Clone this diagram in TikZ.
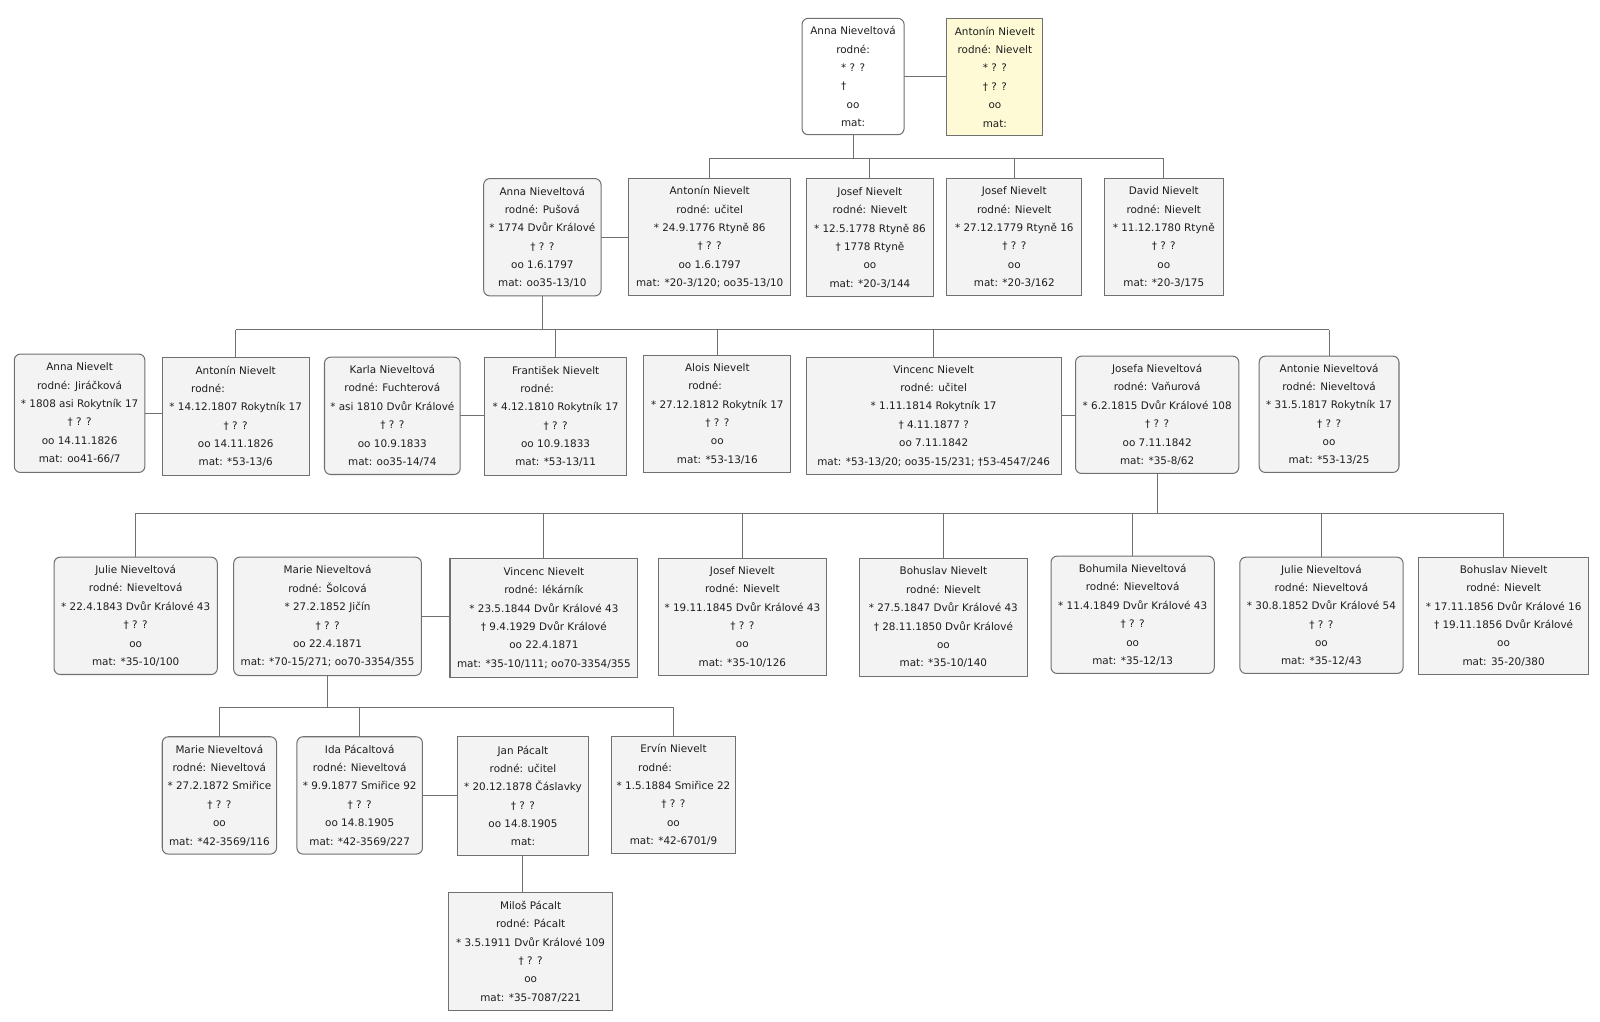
\documentclass[tikz,border=0pt]{standalone}
\usepackage{fontspec}
\setmainfont{DejaVu Sans}
\definecolor{boxfill}{RGB}{243,243,243}
\definecolor{boxline}{RGB}{112,112,112}
\definecolor{yel}{RGB}{255,250,214}
\definecolor{txt}{RGB}{30,30,30}
\tikzset{
  person/.style={draw=boxline, line width=1pt, fill=boxfill, align=center,
    inner sep=0pt, outer sep=0pt, text=txt, font=\fontsize{10.2}{18}\selectfont},
  sq/.style={person},
  rd/.style={person, rounded corners=6pt},
  link/.style={draw=boxline, line width=1pt},
}
\newcommand\pers[7]{%
  \pgfmathsetmacro\pw{#5-#3}\pgfmathsetmacro\ph{#6-#4}%
  \node[#1, minimum width=\pw pt, minimum height=\ph pt] (#2) at ({(#3+#5)/2},{(#4+#6)/2}) {#7};}
\begin{document}
\begin{tikzpicture}[x=1pt,y=-1pt]
\fill[white] (0,0) rectangle (1568,1001);
\useasboundingbox (0,0) rectangle (1568,1001);
% row 0
\pers{rd,fill=white}{A0}{786}{18}{886}{132}{Anna Nieveltová\\rodné:\\* ? ?\\†\hphantom{ ? ?}\\oo\\mat:}
\pers{sq,fill=yel}{B0}{928}{18}{1022}{133}{Antonín Nievelt\\rodné: Nievelt\\* ? ?\\† ? ?\\oo\\mat:}
% row 1
\pers{rd}{A1}{474}{175}{589}{290}{Anna Nieveltová\\rodné: Pušová\\* 1774 Dvůr Králové\\† ? ?\\oo 1.6.1797\\mat: oo35-13/10}
\pers{sq}{B1}{616}{175}{775}{290}{Antonín Nievelt\\rodné: učitel\\* 24.9.1776 Rtyně 86\\† ? ?\\oo 1.6.1797\\mat: *20-3/120; oo35-13/10}
\pers{sq}{C1}{790}{175}{915}{291}{Josef Nievelt\\rodné: Nievelt\\* 12.5.1778 Rtyně 86\\† 1778 Rtyně\\oo\\mat: *20-3/144}
\pers{sq}{D1}{928}{175}{1060}{290}{Josef Nievelt\\rodné: Nievelt\\* 27.12.1779 Rtyně 16\\† ? ?\\oo\\mat: *20-3/162}
\pers{sq}{E1}{1082}{175}{1199}{290}{David Nievelt\\rodné: Nievelt\\* 11.12.1780 Rtyně\\† ? ?\\oo\\mat: *20-3/175}
% row 2
\pers{rd}{A2}{14}{347}{142}{463}{Anna Nievelt\\rodné: Jiráčková\\* 1808 asi Rokytník 17\\† ? ?\\oo 14.11.1826\\mat: oo41-66/7}
\pers{sq}{B2}{159}{350}{303}{466}{Antonín Nievelt\\rodné:\hphantom{xxxxxxxxx}\\* 14.12.1807 Rokytník 17\\† ? ?\\oo 14.11.1826\\mat: *53-13/6}
\pers{rd}{C2}{318}{350}{451}{465}{Karla Nieveltová\\rodné: Fuchterová\\* asi 1810 Dvůr Králové\\† ? ?\\oo 10.9.1833\\mat: oo35-14/74}
\pers{sq}{D2}{475}{350}{614}{466}{František Nievelt\\rodné:\hphantom{xxxxxx}\\* 4.12.1810 Rokytník 17\\† ? ?\\oo 10.9.1833\\mat: *53-13/11}
\pers{sq}{E2}{631}{348}{775}{463}{Alois Nievelt\\rodné:\hphantom{xxxx}\\* 27.12.1812 Rokytník 17\\† ? ?\\oo\\mat: *53-13/16}
\pers{sq}{F2}{790}{350}{1040}{465}{Vincenc Nievelt\\rodné: učitel\\* 1.11.1814 Rokytník 17\\† 4.11.1877 ?\\oo 7.11.1842\\mat: *53-13/20; oo35-15/231; †53-4547/246}
\pers{rd}{G2}{1054}{349}{1214}{464}{Josefa Nieveltová\\rodné: Vaňurová\\* 6.2.1815 Dvůr Králové 108\\† ? ?\\oo 7.11.1842\\mat: *35-8/62}
\pers{rd}{H2}{1234}{349}{1371}{463}{Antonie Nieveltová\\rodné: Nieveltová\\* 31.5.1817 Rokytník 17\\† ? ?\\oo\\mat: *53-13/25}
% row 3
\pers{rd}{A3}{53}{546}{213}{661}{Julie Nieveltová\\rodné: Nieveltová\\* 22.4.1843 Dvůr Králové 43\\† ? ?\\oo\\mat: *35-10/100}
\pers{rd}{B3}{229}{546}{413}{662}{Marie Nieveltová\\rodné: Šolcová\\* 27.2.1852 Jičín\\† ? ?\\oo 22.4.1871\\mat: *70-15/271; oo70-3354/355}
\pers{sq}{C3}{441}{547}{625}{664}{Vincenc Nievelt\\rodné: lékárník\\* 23.5.1844 Dvůr Králové 43\\† 9.4.1929 Dvůr Králové\\oo 22.4.1871\\mat: *35-10/111; oo70-3354/355}
\pers{sq}{D3}{645}{547}{810}{662}{Josef Nievelt\\rodné: Nievelt\\* 19.11.1845 Dvůr Králové 43\\† ? ?\\oo\\mat: *35-10/126}
\pers{sq}{E3}{842}{547}{1007}{663}{Bohuslav Nievelt\\rodné: Nievelt\\* 27.5.1847 Dvůr Králové 43\\† 28.11.1850 Dvůr Králové\\oo\\mat: *35-10/140}
\pers{rd}{F3}{1030}{545}{1190}{660}{Bohumila Nieveltová\\rodné: Nieveltová\\* 11.4.1849 Dvůr Králové 43\\† ? ?\\oo\\mat: *35-12/13}
\pers{rd}{G3}{1215}{546}{1375}{660}{Julie Nieveltová\\rodné: Nieveltová\\* 30.8.1852 Dvůr Králové 54\\† ? ?\\oo\\mat: *35-12/43}
\pers{sq}{H3}{1390}{546}{1557}{661}{Bohuslav Nievelt\\rodné: Nievelt\\* 17.11.1856 Dvůr Králové 16\\† 19.11.1856 Dvůr Králové\\oo\\mat: 35-20/380}
% row 4
\pers{rd}{A4}{159}{722}{271}{837}{Marie Nieveltová\\rodné: Nieveltová\\* 27.2.1872 Smiřice\\† ? ?\\oo\\mat: *42-3569/116}
\pers{rd}{B4}{291}{722}{414}{837}{Ida Pácaltová\\rodné: Nieveltová\\* 9.9.1877 Smiřice 92\\† ? ?\\oo 14.8.1905\\mat: *42-3569/227}
\pers{sq}{C4}{448}{722}{577}{838}{Jan Pácalt\\rodné: učitel\\* 20.12.1878 Čáslavky\\† ? ?\\oo 14.8.1905\\mat:}
\pers{sq}{D4}{599}{722}{721}{836}{Ervín Nievelt\\rodné:\hphantom{xxxxxx}\\* 1.5.1884 Smiřice 22\\† ? ?\\oo\\mat: *42-6701/9}
% row 5
\pers{sq}{A5}{440}{875}{600}{990}{Miloš Pácalt\\rodné: Pácalt\\* 3.5.1911 Dvůr Králové 109\\† ? ?\\oo\\mat: *35-7087/221}
% couples
\draw[link] (A0.east) -- (A0.east -| B0.west);
\draw[link] (A1.east) -- (A1.east -| B1.west);
\draw[link] (A2.east) -- (A2.east -| B2.west);
\draw[link] (C2.east) -- (C2.east -| D2.west);
\draw[link] (F2.east) -- (F2.east -| G2.west);
\draw[link] (B3.east) -- (B3.east -| C3.west);
\draw[link] (B4.east) -- (B4.east -| C4.west);
% buses
\coordinate (bus0) at (0,155);
\coordinate (bus1) at (0,323);
\coordinate (bus2) at (0,503);
\coordinate (bus3) at (0,693);
\draw[link] (A0.south) -- (A0.south |- bus0);
\draw[link] (B1.north |- bus0) -- (E1.north |- bus0);
\foreach \c in {B1,C1,D1,E1} \draw[link] (\c.north) -- (\c.north |- bus0);
\draw[link] (A1.south) -- (A1.south |- bus1);
\draw[link] (B2.north |- bus1) -- (H2.north |- bus1);
\foreach \c in {B2,D2,E2,F2,H2} \draw[link] (\c.north) -- (\c.north |- bus1);
\draw[link] (G2.south) -- (G2.south |- bus2);
\draw[link] (A3.north |- bus2) -- (H3.north |- bus2);
\foreach \c in {A3,C3,D3,E3,F3,G3,H3} \draw[link] (\c.north) -- (\c.north |- bus2);
\draw[link] (B3.south) -- (B3.south |- bus3);
\draw[link] (A4.north |- bus3) -- (D4.north |- bus3);
\foreach \c in {A4,B4,D4} \draw[link] (\c.north) -- (\c.north |- bus3);
\draw[link] (C4.south) -- (C4.south |- A5.north);
\end{tikzpicture}
\end{document}
